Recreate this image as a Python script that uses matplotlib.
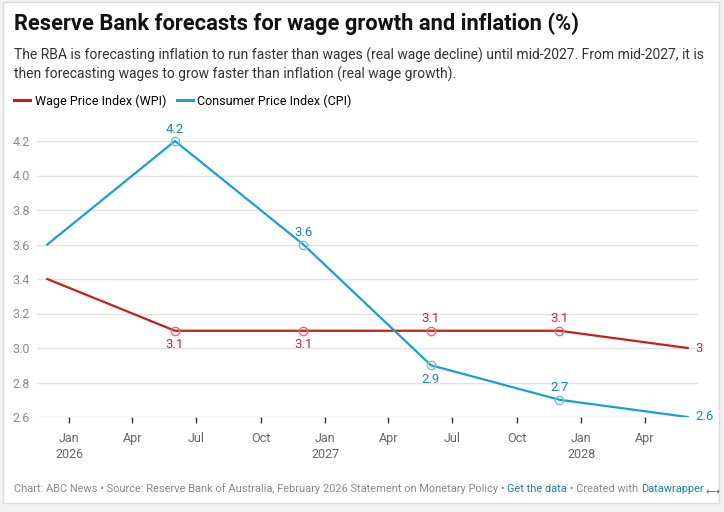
import matplotlib
matplotlib.use('Agg')
import matplotlib.pyplot as plt
import matplotlib.dates as mdates
from matplotlib.patches import Rectangle
import pandas as pd

plt.rcParams['font.family'] = ['Roboto', 'DejaVu Sans']

# --- DATA ---
dates = pd.to_datetime(['2025-12-01', '2026-06-01', '2026-12-01',
                        '2027-06-01', '2027-12-01', '2028-06-01'])
wpi = [3.4, 3.1, 3.1, 3.1, 3.1, 3.0]
cpi = [3.6, 4.2, 3.6, 2.9, 2.7, 2.6]
yticks = [2.6, 2.8, 3.0, 3.2, 3.4, 3.6, 3.8, 4.0, 4.2]
series_names = ['Wage Price Index (WPI)', 'Consumer Price Index (CPI)']

title = 'Reserve Bank forecasts for wage growth and inflation (%)'
subtitle = ('The RBA is forecasting inflation to run faster than wages (real wage decline) until mid-2027. From mid-2027, it is\n'
            'then forecasting wages to grow faster than inflation (real wage growth).')

# where each value label goes (None = no label)
wpi_pos = [None, 'below', 'below', 'above', 'above', 'right']
cpi_pos = [None, 'above', 'above', 'below', 'above', 'right']

# --- STYLE ---
RED, RED_TXT = '#c71e1d', '#c4283c'
BLUE, BLUE_TXT = '#18a1cd', '#1b88ad'
W, H = 724, 512

fig = plt.figure(figsize=(W / 100, H / 100), dpi=100)
fig.patch.set_facecolor('#f3f3f3')
fig.add_artist(Rectangle((3 / W, 1 - 503 / H), 716 / W, 501 / H,
                         transform=fig.transFigure, facecolor='white',
                         edgecolor='#dcdcdc', lw=1, zorder=0))

ymin, ymax = 2.6, 4.32
top_px = 141 - (ymax - 4.2) / 0.2 * 34.5
ax = fig.add_axes([37 / W, 1 - 417 / H, 661 / W, (417 - top_px) / H])
ax.set_facecolor('none')

ax.plot(dates, wpi, color=RED, lw=1.6, marker='o', markevery=[1, 2, 3, 4],
        ms=6, mfc='none', mec='#e07070', mew=1, zorder=3, label=series_names[0])
ax.plot(dates, cpi, color=BLUE, lw=1.6, marker='o', markevery=[1, 2, 3, 4],
        ms=6, mfc='none', mec='#6cc3e0', mew=1, zorder=3, label=series_names[1])

offsets = {'above': ((0, 8.6), 'center', 'center'),
           'below': ((0, -10), 'center', 'center'),
           'right': ((5.5, 0), 'left', 'center')}
for vals, poss, col in [(wpi, wpi_pos, RED_TXT), (cpi, cpi_pos, BLUE_TXT)]:
    for d, v, p in zip(dates, vals, poss):
        if p is None:
            continue
        off, ha, va = offsets[p]
        ax.annotate(f'{v:g}', (d, v), xytext=off, textcoords='offset points',
                    ha=ha, va=va, color=col, fontsize=9.5, zorder=4)

pad = pd.Timedelta(days=14.7)
ax.set_xlim(dates[0] - pad, dates[-1] + pad)
ax.set_ylim(ymin, ymax)
ax.set_yticks(yticks)
ax.set_yticklabels([f'{t:.1f}' for t in yticks])

ax.xaxis.set_major_locator(mdates.MonthLocator(bymonth=[1, 4, 7, 10]))
ax.xaxis.set_major_formatter(plt.FuncFormatter(
    lambda x, _: mdates.num2date(x).strftime('%b\n%Y') if mdates.num2date(x).month == 1
    else mdates.num2date(x).strftime('%b')))

for s in ax.spines.values():
    s.set_visible(False)
ax.grid(axis='y', color='#e3e3e3', lw=1)
ax.set_axisbelow(True)
ax.tick_params(axis='x', length=4.5, width=1, color='#333333', pad=6,
               labelsize=9, labelcolor='#666666')
ax.tick_params(axis='y', length=0, pad=5, labelsize=9, labelcolor='#8c8c8c')
for lab in ax.get_xticklabels():
    lab.set_linespacing(1.35)

# --- TEXT ---
fig.text(14 / W, 1 - 24 / H, title, fontsize=15.75, fontweight='bold',
         color='#111111', va='center', ha='left')
fig.text(14 / W, 1 - 48 / H, subtitle, fontsize=10, color='#333333',
         va='top', ha='left', linespacing=1.3)

fig.legend(loc='center left', bbox_to_anchor=(14 / W, 1 - 101 / H), ncol=2,
           frameon=False, fontsize=9, handlelength=1.3, handletextpad=0.35,
           columnspacing=0.85, borderaxespad=0, borderpad=0)
for line in fig.legends[0].get_lines():
    line.set_linewidth(2.2)
    line.set_marker('')

# footer with coloured link parts
footer = [('Chart: ABC News • Source: Reserve Bank of Australia, February 2026 Statement on Monetary Policy • ', '#8a8a8a'),
          ('Get the data', '#1d81a2'),
          (' • Created with ', '#8a8a8a'),
          ('Datawrapper', '#1d81a2')]
renderer = fig.canvas.get_renderer()
x = 14
for txt, col in footer:
    t = fig.text(x / W, 1 - 489 / H, txt, fontsize=7.9, color=col, va='center', ha='left')
    x = t.get_window_extent(renderer).x1
fig.text(713 / W, 1 - 492 / H, '⟷', fontsize=7, color='#666666',
         va='center', ha='center', family=['DejaVu Sans'])

fig.savefig('out.png', dpi=100)
